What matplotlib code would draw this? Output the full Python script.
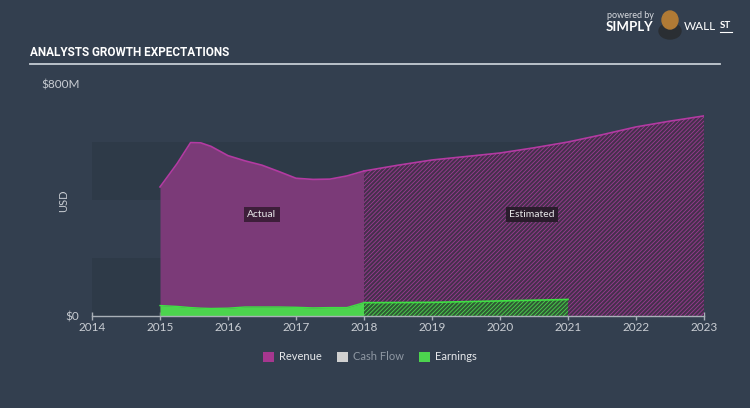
import matplotlib
matplotlib.use('Agg')
import matplotlib.pyplot as plt
from matplotlib.patches import Patch, Ellipse
from matplotlib.lines import Line2D

# revenue and earnings, USD millions
actual_years = [2015.0, 2015.25, 2015.45, 2015.6, 2015.75, 2016.0, 2016.25, 2016.5,
                2016.75, 2017.0, 2017.25, 2017.5, 2017.75, 2018.0]
actual_revenue = [445, 525, 598, 597, 585, 553, 535, 520, 498, 475, 471, 472, 483, 500]
actual_earnings = [36, 33, 29, 27, 26, 27, 31, 31, 31, 30, 28, 29, 29, 46]

est_years = [2018.0, 2018.5, 2019.0, 2019.5, 2020.0, 2020.5, 2021.0, 2021.5, 2022.0, 2022.5, 2023.0]
est_revenue = [500, 520, 538, 550, 562, 580, 600, 625, 652, 672, 690]
est_earn_years = [2018.0, 2019.0, 2020.0, 2021.0]
est_earnings = [46, 47, 52, 57]

year_ticks = list(range(2014, 2024))
legend_names = ['Revenue', 'Cash Flow', 'Earnings']
legend_colors = ['#a6378f', '#d0d0d0', '#4cd44e']

BG = '#333f4f'
BAND = '#2e3a48'
TXT = '#c9cdd3'
BODY = 'Lato'

plt.rcParams['hatch.linewidth'] = 0.6

fig = plt.figure(figsize=(7.5, 4.08), dpi=100)
fig.patch.set_facecolor(BG)
ax = fig.add_axes([92 / 750, 1 - 316 / 408, (704 - 92) / 750, (316 - 84) / 408])
ax.set_facecolor(BG)
ax.set_xlim(2014, 2023)
ax.set_ylim(0, 800)

# background bands
ax.axhspan(0, 200, color=BAND, zorder=0, lw=0)
ax.axhspan(400, 600, color=BAND, zorder=0, lw=0)

# actual revenue
ax.fill_between(actual_years, 0, actual_revenue, color='#7b3a78', lw=0, zorder=2)
ax.plot(actual_years, actual_revenue, color='#b33aa2', lw=1.2, zorder=3)
# estimated revenue, hatched
ax.fill_between(est_years, 0, est_revenue, facecolor='#45304c', edgecolor='#9c3a92',
                hatch='////////', lw=0, zorder=2)
ax.plot(est_years, est_revenue, color='#b33aa2', lw=1.2, zorder=3)

# earnings
ax.fill_between(actual_years, 0, actual_earnings, color='#4cd44e', lw=0, zorder=4)
ax.plot(actual_years, actual_earnings, color='#3fe043', lw=1, zorder=5)
ax.fill_between(est_earn_years, 0, est_earnings, facecolor='#2f5a34', edgecolor='#4cd44e',
                hatch='////////', lw=0, zorder=4)
ax.plot(est_earn_years, est_earnings, color='#3fe043', lw=1.2, zorder=5)

for s in ['top', 'right', 'left']:
    ax.spines[s].set_visible(False)
ax.spines['bottom'].set_color('#a9b0b8')
ax.spines['bottom'].set_linewidth(1)
ax.spines['bottom'].set_zorder(6)

ax.set_xticks(year_ticks)
ax.set_xticklabels([str(y) for y in year_ticks], fontsize=8.5, color=TXT, family=BODY)
ax.tick_params(axis='x', length=6, width=1, color='#a9b0b8', pad=1, direction='inout')
ax.set_yticks([0, 800])
ax.set_yticklabels(['$0', '$800M'], fontsize=8.5, color=TXT, family=BODY)
ax.tick_params(axis='y', length=0, pad=9)

ax.text(2016.5, 350, 'Actual', fontsize=7.5, color='#e8e8ea', family=BODY,
        ha='center', va='center', zorder=7,
        bbox=dict(boxstyle='square,pad=0.3', fc='#3d1e3a', ec='none'))
ax.text(2020.47, 350, 'Estimated', fontsize=7.5, color='#e8e8ea', family=BODY,
        ha='center', va='center', zorder=7,
        bbox=dict(boxstyle='square,pad=0.3', fc='#2a1c2c', ec='none'))

fig.text(64 / 750, 1 - 201 / 408, 'USD', rotation=90, fontsize=8, color=TXT,
         family=BODY, ha='center', va='center')

# title and rule
fig.text(30 / 750, 1 - 53 / 408, 'ANALYSTS GROWTH EXPECTATIONS', fontsize=8.5,
         fontweight='bold', fontstretch='condensed', color='#ffffff',
         family='Roboto', ha='left', va='center')
fig.add_artist(Line2D([30 / 750, 720 / 750], [1 - 64 / 408, 1 - 64 / 408],
                      color='#c5ccd3', lw=1.3))

# logo
fig.text(607 / 750, 1 - 15 / 408, 'powered by', fontsize=6.5, color='#d8dbe0',
         family=BODY, ha='left', va='center')
fig.text(606 / 750, 1 - 27 / 408, 'SIMPLY', fontsize=9.5, fontweight='bold',
         color='#ffffff', family=BODY, ha='left', va='center')
fig.add_artist(Ellipse((670 / 750, 1 - 31 / 408), 22 / 750, 16 / 408,
                       transform=fig.transFigure, color='#2a2e33', zorder=5))
fig.add_artist(Ellipse((670 / 750, 1 - 20 / 408), 16 / 750, 18 / 408,
                       transform=fig.transFigure, color='#b07a35', zorder=6))
fig.text(684 / 750, 1 - 27 / 408, 'WALL', fontsize=8.5, color='#ffffff',
         family=BODY, ha='left', va='center')
fig.text(720 / 750, 1 - 26 / 408, 'ST', fontsize=7, fontweight='bold',
         color='#ffffff', family=BODY, ha='left', va='center')
fig.add_artist(Line2D([720 / 750, 732 / 750], [1 - 32 / 408, 1 - 32 / 408],
                      color='#ffffff', lw=0.8))

handles = [Patch(facecolor=c, edgecolor='none') for c in legend_colors]
leg = fig.legend(handles, legend_names, loc='center', bbox_to_anchor=(370 / 750, 1 - 357 / 408),
                 ncol=3, frameon=False, handlelength=1.0, handleheight=1.0,
                 handletextpad=0.5, columnspacing=1.3,
                 prop={'family': BODY, 'size': 8})
for t, c in zip(leg.get_texts(), ['#e6e8eb', '#8f98a3', '#e6e8eb']):
    t.set_color(c)

fig.savefig('out.png', dpi=100, facecolor=BG)
